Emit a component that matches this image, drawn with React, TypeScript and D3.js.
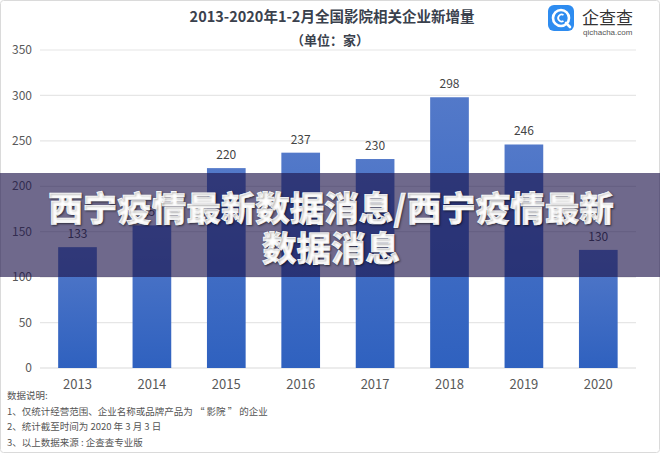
import React from "react";
import * as d3 from "d3";

const years = ["2013", "2014", "2015", "2016", "2017", "2018", "2019", "2020"];
const values = [133, 157, 220, 237, 230, 298, 246, 130];
const yTicks = [0, 50, 100, 150, 200, 250, 300, 350];
const title = "2013-2020年1-2月全国影院相关企业新增量";
const subtitle = "（单位：家）";
const notes = [
  "数据说明:",
  "1、仅统计经营范围、企业名称或品牌产品为 “ 影院 ” 的企业",
  "2、统计截至时间为 2020 年 3 月 3 日",
  "3、以上数据来源 : 企查查专业版",
];
const overlayLines = ["西宁疫情最新数据消息/西宁疫情最新", "数据消息"];

const W = 660;
const H = 453;
const FONT = "'Noto Sans CJK SC', 'Noto Sans', sans-serif";

export default function App() {
  const x = d3.scaleBand<string>().domain(years).range([40.3, 635.5]).paddingInner(0.48).paddingOuter(0.24);
  const y = d3.scaleLinear().domain([0, 350]).range([368, 50]);

  return (
    <svg
      width={W}
      height={H}
      viewBox={`0 0 ${W} ${H}`}
      style={{ position: "absolute", left: 0, top: 0, background: "#fff" }}
      fontFamily={FONT}
    >
      <defs>
        <linearGradient id="barGrad" x1="0" y1="0" x2="0" y2="1">
          <stop offset="0%" stopColor="#5379c9" />
          <stop offset="100%" stopColor="#2f61bf" />
        </linearGradient>
      </defs>
      <rect x={0.5} y={0.5} width={W - 1} height={H - 1} fill="#fff" stroke="#dadada" rx={3} />

      {/* title */}
      <text x={332} y={22} textAnchor="middle" fontSize={14.5} fontWeight={700} fill="#3a414d">
        {title}
      </text>
      <text x={330} y={45} textAnchor="middle" fontSize={13} fontWeight={700} fill="#3a414d">
        {subtitle}
      </text>

      {/* logo */}
      <g>
        <rect x={548} y={5} width={26} height={26} rx={6} fill="#2e8cf0" />
        <circle cx={561} cy={18} r={8} fill="none" stroke="#fff" strokeWidth={2.6} />
        <line x1={566} y1={23} x2={570} y2={27} stroke="#fff" strokeWidth={2.6} strokeLinecap="round" />
        <path d="M 563.5 15 A 3.5 3.5 0 1 0 563.5 21" fill="none" stroke="#fff" strokeWidth={1.8} />
        <text x={582} y={24} fontSize={17} fill="#333">企查查</text>
        <text x={583} y={35} fontSize={8} fill="#555" fontFamily="'Liberation Sans', Arial, sans-serif">
          qichacha.com
        </text>
      </g>

      {/* grid */}
      {yTicks.map((t) => (
        <g key={t}>
          <line x1={40} x2={636} y1={y(t)} y2={y(t)} stroke={t === 0 ? "#d9d9d9" : "#e6e6e6"} strokeWidth={1.2} />
          <text x={32} y={y(t)} dy="0.35em" textAnchor="end" fontSize={12} fill="#595959">
            {t}
          </text>
        </g>
      ))}

      {/* bars */}
      {years.map((yr, i) => (
        <g key={yr}>
          <rect
            x={x(yr)!}
            y={y(values[i])}
            width={x.bandwidth()}
            height={y(0) - y(values[i])}
            fill="url(#barGrad)"
          />
          <text
            x={x(yr)! + x.bandwidth() / 2}
            y={y(values[i]) - 9}
            textAnchor="middle"
            fontSize={12}
            fill="#444"
          >
            {values[i]}
          </text>
          <text
            x={x(yr)! + x.bandwidth() / 2}
            y={389}
            textAnchor="middle"
            fontSize={13}
            fill="#595959"
          >
            {yr}
          </text>
        </g>
      ))}

      {/* notes */}
      {notes.map((n, i) => (
        <text key={i} x={7} y={399 + i * 15.6} fontSize={9.5} fill="#555">
          {n}
        </text>
      ))}

      {/* overlay band */}
      <rect x={0} y={173} width={W} height={104} fill="rgb(30,20,75)" fillOpacity={0.64} />
      {overlayLines.map((l, i) => (
        <text
          key={i}
          x={331}
          y={221 + i * 39.5}
          textAnchor="middle"
          fontSize={34.5}
          fontWeight={900}
          fill="#fff"
          stroke="#fff"
          strokeWidth={0.6}
          style={{ textShadow: "1px 1px 2px rgba(0,0,0,0.5)" }}
        >
          {l}
        </text>
      ))}
    </svg>
  );
}
